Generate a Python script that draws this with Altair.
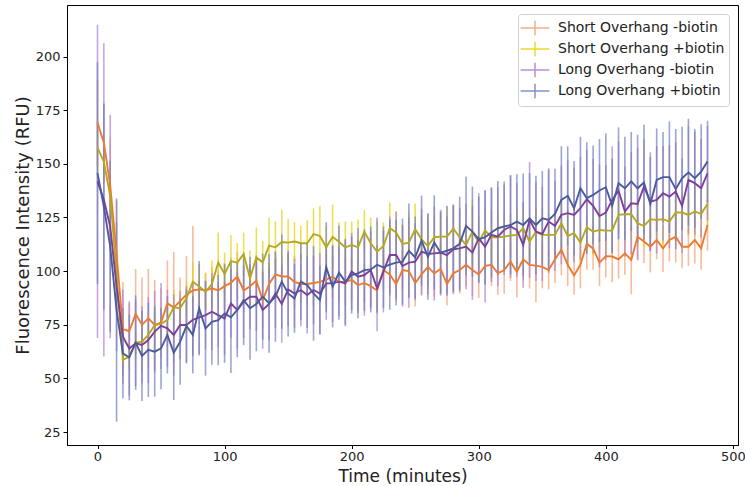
import altair as alt
import pandas as pd

time_min = list(range(0, 481, 5))
series_names = ["Short Overhang -biotin", "Short Overhang +biotin",
                "Long Overhang -biotin", "Long Overhang +biotin"]

short_minus_mean = [169, 160, 140, 108, 73, 72, 80, 75, 78, 75, 76, 85, 83, 86, 89, 91,
    91.5, 91, 92, 91, 93, 94.5, 97.5, 91, 93, 95.5, 86.5, 94, 98.5, 97.5, 97.5, 95,
    94, 94, 94.5, 95, 96, 97.5, 95, 95, 96, 93.5, 94.5, 93, 91, 100.5, 98.5, 94,
    100.5, 100, 94.5, 98.5, 102, 99, 101, 94, 99, 100.5, 103, 100.5, 98.5, 102.5, 103,
    99, 100.5, 104.4, 99.7, 105.5, 102.9, 102.6, 102, 100.5, 105.5, 110, 103, 98, 103, 112.7, 110.6,
    104, 107, 106.8, 105.5, 108.3, 105.2, 116, 113.8, 111.4, 114.5, 110.6, 114.5, 116, 111.4, 111.4, 114.5, 110.6, 121.5]
short_minus_err = [20, 18, 22, 25, 22, 13, 21, 22, 23, 21, 16, 20, 26, 11, 18, 30,
    12, 8, 10, 9, 11, 12, 11.5, 10, 9, 12, 13, 10, 11, 9, 10, 12,
    9, 10, 11, 8, 12, 10, 9, 11, 10, 12, 9, 10, 11, 9, 10, 8,
    9, 12, 11, 10, 9, 11, 12, 10, 9, 11, 10, 12, 11, 9, 10,
    10, 11, 9, 12, 10, 11, 17, 10, 9, 11, 12, 10, 9, 11, 12, 10,
    11, 10, 12, 9, 10, 16, 11, 10, 12, 9, 11, 10, 12, 10, 9, 11, 10, 12]

short_plus_mean = [157.6, 151, 135, 99, 58.6, 60.2, 66.7, 67.1, 70.3, 74.9, 75.4, 77.3, 83.2, 82.7, 87.4, 95.1,
    92.8, 90.4, 94, 104, 98.7, 104.7, 104, 108, 96.6, 106.4, 104.1, 111.9, 111.1, 113.6, 113.3, 113.8,
    113, 113, 117.3, 116.4, 111.1, 116, 113.7, 111.1, 112.2, 111.1, 118.4, 113, 109.1, 111.7, 120, 118,
    112.7, 113.3, 119.5, 114.8, 111.7, 115.8, 116.1, 116.1, 119.8, 115.8, 112.2, 118.4, 113.5, 119, 115.8,
    115.8, 116.1, 116.6, 116.9, 120, 113.8, 118.4, 116.9, 116.9, 116.9, 122.3, 116.4, 117.7, 113.3, 120.5, 118.4,
    119.2, 118.9, 118.9, 126.2, 126.5, 126.5, 122.3, 121.1, 124.2, 123.9, 124.2, 123.1, 127.3, 127.3, 126.2, 127.8, 126.7, 131.3]
short_plus_err = [12, 10, 8, 8, 5, 6, 5, 6, 5, 6, 7, 6, 8, 7, 8, 9,
    10, 9, 11, 14, 10, 12, 9, 10, 13, 14, 10, 13, 12, 15, 11, 9,
    8, 11, 12, 14, 10, 15, 9, 12, 11, 13, 10, 12, 14, 11, 12, 10,
    9, 14, 12, 11, 13, 10, 12, 14, 11, 12, 10, 15, 12, 11, 13,
    12, 11, 10, 13, 12, 9, 11, 12, 10, 11, 13, 12, 11, 10, 12, 11,
    10, 12, 11, 9, 10, 12, 11, 10, 9, 11, 12, 10, 11, 9, 10, 12, 11, 10]

long_minus_mean = [141.8, 133.2, 120.8, 92.8, 69.5, 64, 66.4, 65.6, 67.9, 71.8, 74.5, 73.4, 70.3, 74.9, 74.9, 77.3,
    78.5, 79.5, 81.1, 79.5, 78, 85, 81.9, 85.8, 88.1, 88.1, 81.9, 84.7, 89.6, 84.7, 91.5, 89.6,
    91.2, 88.9, 91.2, 89.6, 94.3, 94.3, 95.1, 94.3, 99.8, 97.4, 98.2, 100.5, 92, 99.8, 107.5, 107.5,
    102.4, 104, 104.4, 109.1, 108, 108.3, 108.6, 107.5, 110.2, 110.6, 111.4, 108.6, 115.3, 111.4, 116.9,
    116.1, 119.2, 120.8, 119.2, 112.2, 123.9, 118.4, 117.3, 123.1, 121.1, 126.2, 127, 126.2, 129.3, 133.5, 130.4,
    125.7, 127.3, 133.2, 137.5, 127.8, 131.6, 131.3, 139.4, 132.4, 133.2, 136.3, 134.7, 137.1, 130.4, 142.5, 141, 138.6, 145.6]
long_minus_err = [73, 73, 52, 30, 22, 22, 20, 18, 20, 19, 20, 18, 19, 16, 18, 17,
    17, 16, 18, 15, 17, 16, 18, 17, 15, 16, 18, 17, 16, 18, 17, 16,
    17, 18, 16, 19, 17, 18, 16, 20, 18, 17, 19, 18, 20, 19, 18, 20,
    19, 21, 18, 20, 19, 22, 20, 18, 21, 19, 20, 22, 21, 26, 22,
    23, 21, 24, 22, 20, 27, 23, 22, 24, 21, 23, 25, 22, 24, 23, 22,
    24, 22, 25, 23, 21, 24, 26, 22, 23, 25, 22, 24, 23, 22, 25, 24, 23, 22]

long_plus_mean = [145.7, 130.1, 111.5, 81.9, 61.7, 59.8, 66.7, 60.5, 63.3, 62.5, 64, 70.3, 62, 67.1, 74.5, 70.3,
    82.7, 73.3, 76.4, 77.2, 80.3, 78.5, 81.9, 86.5, 82.7, 84.7, 88.1, 85, 88.1, 95.1, 89.6, 87.3,
    95.1, 93.5, 89.6, 86.5, 101.8, 92.8, 99.3, 95.1, 98.2, 99, 100.5, 100.8, 102.9, 101.8, 103, 104,
    104.4, 109.5, 106.4, 114.2, 106.7, 113.3, 108.6, 109.5, 110.6, 112.7, 121.1, 118.4, 114.8, 115.8, 118,
    120, 120.8, 121.5, 123.1, 121.5, 124.6, 121.5, 124.6, 123.9, 126.7, 133.2, 135.1, 129.3, 138.6, 134, 135.5,
    137.6, 139.1, 130.4, 141, 138.6, 141.8, 138.6, 141.3, 131.3, 142.5, 143.8, 143.8, 138.2, 143.3, 146, 143.3, 146.4, 151.1]
long_plus_err = [51.6, 48, 40, 52, 21, 20, 22, 21, 22, 21, 19, 18, 22, 20, 17, 18,
    22, 22, 20, 21, 23, 26, 22, 21, 24, 22, 20, 23, 21, 22, 20, 16,
    18, 20, 22, 16, 21, 19, 22, 20, 18, 21, 19, 20, 22, 19, 21, 20,
    20, 22, 19, 21, 20, 22, 19, 21, 20, 22, 23, 21, 20, 22, 21,
    22, 21, 23, 22, 24, 21, 23, 22, 24, 21, 25, 23, 22, 24, 26, 23,
    24, 25, 22, 26, 24, 23, 25, 27, 22, 24, 21, 26, 28, 24, 25, 23, 22, 19]

line_colors = ["#EE7A30", "#B5A81C", "#7E3F99", "#4A5B9B"]
bar_colors = ["#F4A070", "#E6D20A", "#B07FD0", "#6E80BF"]

means = [short_minus_mean, short_plus_mean, long_minus_mean, long_plus_mean]
errs = [short_minus_err, short_plus_err, long_minus_err, long_plus_err]

rows = []
for k, (name, m_arr, e_arr) in enumerate(zip(series_names, means, errs)):
    assert len(m_arr) == len(time_min) and len(e_arr) == len(time_min), name
    for t, m, e in zip(time_min, m_arr, e_arr):
        rows.append({"time": t, "series": name, "k": k, "mean": m,
                     "lo": m - e, "hi": m + e})
df = pd.DataFrame(rows)

x_scale = alt.Scale(domain=[-24, 504], nice=False, zero=False)
y_scale = alt.Scale(domain=[19, 224], nice=False, zero=False)

x_enc = alt.X("time:Q", scale=x_scale,
              axis=alt.Axis(values=[0, 100, 200, 300, 400, 500], title="Time (minutes)",
                            grid=False, titleY=36, titleBaseline="alphabetic",
                            titleFontSize=17, labelPadding=2, tickSize=3.5))
y_axis = alt.Axis(values=[25, 50, 75, 100, 125, 150, 175, 200],
                  title="Fluorescence Intensity (RFU)", titlePadding=3, grid=False)

cross = "M-1.6,0L1.6,0M0,-0.8L0,0.8"

bars = alt.Chart(df).mark_rule(strokeWidth=1.6, opacity=0.7).encode(
    x=x_enc,
    y=alt.Y("lo:Q", scale=y_scale, axis=y_axis),
    y2="hi:Q",
    color=alt.Color("series:N", scale=alt.Scale(domain=series_names, range=bar_colors),
                    legend=alt.Legend(title=None, orient="top-right", offset=9, padding=4,
                                      symbolType=cross, symbolSize=324, symbolStrokeWidth=1.5,
                                      symbolOffset=3, labelOffset=13, rowPadding=-1,
                                      labelFontSize=14, labelFont="DejaVu Sans",
                                      labelColor="#222", labelLimit=300,
                                      strokeColor="#d0d0d0", fillColor="white",
                                      cornerRadius=3, symbolOpacity=0.85)),
    detail="k:O",
)

lines = alt.Chart(df).mark_line(strokeWidth=1.9).encode(
    x=x_enc,
    y=alt.Y("mean:Q", scale=y_scale, axis=y_axis),
    color=alt.Color("series:N", scale=alt.Scale(domain=series_names, range=line_colors),
                    legend=None),
)

chart = alt.layer(bars, lines).resolve_scale(color="independent").properties(
    width=671, height=440,
    padding={"left": 67, "top": 5, "right": 7, "bottom": 41},
    autosize=alt.AutoSizeParams(type="none"),
    background="white",
).configure_view(stroke="black", strokeWidth=1).configure_axis(
    domainColor="black", tickColor="black", grid=False, tickSize=4,
    labelFont="DejaVu Sans", titleFont="DejaVu Sans", labelFontSize=13,
    titleFontSize=18, titleFontWeight="normal", labelColor="#222", titleColor="#222",
    labelPadding=3,
)

chart.save("out.html", embed_options={"renderer": "svg", "actions": False})
